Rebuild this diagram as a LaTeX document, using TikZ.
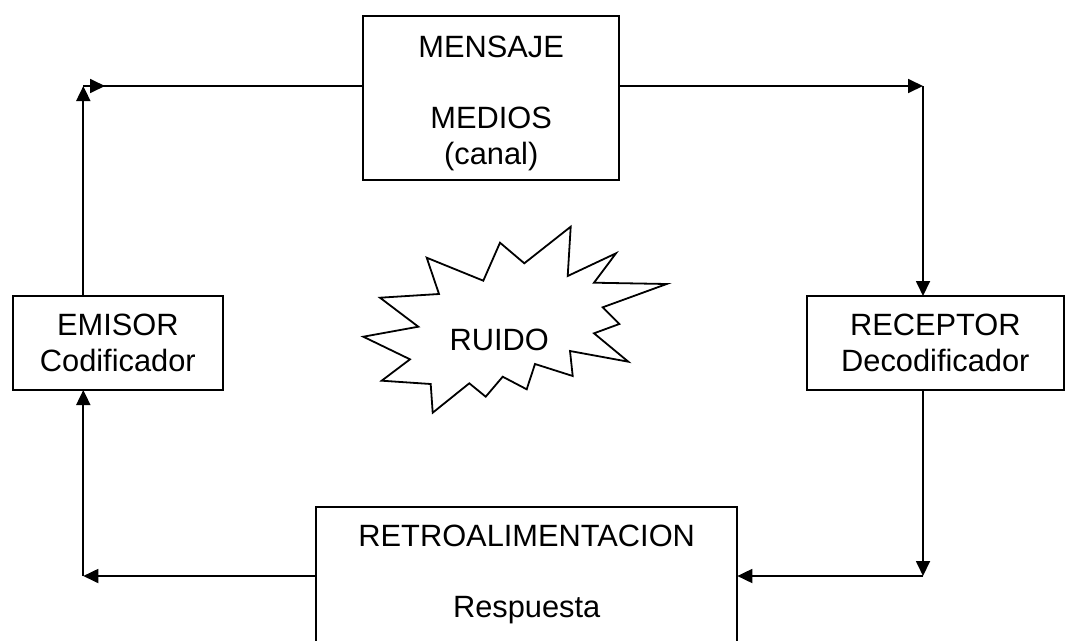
\documentclass[tikz,border=0pt]{standalone}
\usepackage{fontspec}
\setmainfont{Liberation Sans}
\usetikzlibrary{arrows.meta}
\begin{document}
\begin{tikzpicture}[x=1pt,y=-1pt,line width=1.8pt,
  txt/.style={font=\fontsize{30.8}{35.7}\selectfont},
  box/.style={draw,rectangle,outer sep=0pt,inner sep=0pt,align=center,txt},
  arr/.style={-{Triangle[length=15pt 0 0,width=14pt 0 0]}}]
\useasboundingbox (0,0) rectangle (1067,640);
\clip (0,0) rectangle (1067,640);

% boxes
\node[box,minimum width=256.3pt,minimum height=164pt] (mensaje) at (491.2,98)
  {\rule{0pt}{31.6pt}MENSAJE\\[35.7pt]MEDIOS\\(canal)};
\node[box,minimum width=210.3pt,minimum height=94pt] (emisor) at (117.8,343)
  {EMISOR\\Codificador};
\node[box,minimum width=257.3pt,minimum height=94pt] (receptor) at (935.3,343)
  {RECEPTOR\\Decodificador};
\node[box,minimum width=421.3pt,anchor=north,inner ysep=18.3pt] (retro) at (526.7,506.7)
  {RETROALIMENTACION\\[35.7pt]Respuesta\rule[-30pt]{0pt}{1pt}};

% noise starburst
\draw[line join=miter] (426.7,257.7) -- (483.3,280.7) -- (500,242.7) -- (524.3,263.3)
  -- (570.7,226.7) -- (567.7,276) -- (616,253.3) -- (594,282.7) -- (666.7,284)
  -- (602.7,307.3) -- (619.3,324) -- (594,333.3) -- (628.3,361.7) -- (570,351)
  -- (572.7,376) -- (535,364) -- (526.7,389.3) -- (502.7,376.7) -- (485.7,396.7)
  -- (469.3,383.3) -- (432.7,412.7) -- (430.7,384) -- (381.7,380.7) -- (410,359.3)
  -- (363.3,336.7) -- (418.3,326.7) -- (380,297.7) -- (439,294) -- cycle;
\node[txt,inner sep=0pt] (ruido) at (499.3,339.5) {RUIDO};

% corner coordinates
\coordinate (c1) at (83.3,86);
\coordinate (ct) at (105,86);
\coordinate (c2) at (923,86);
\coordinate (c3) at (923,576);
\coordinate (c4) at (83.3,576);

% connectors
\draw (mensaje.west|-c1) -- (c1);
\draw[arr] (c1) -- (ct);
\draw[arr] (c1|-emisor.north) -- (c1);
\draw[arr] (mensaje.east|-c2) -- (c2);
\draw[arr] (c2) -- (c2|-receptor.north);
\draw[arr] (c3|-receptor.south) -- (c3);
\draw[arr] (c3) -- (retro.east|-c3);
\draw[arr] (retro.west|-c4) -- (c4);
\draw[arr] (c4) -- (c4|-emisor.south);
\end{tikzpicture}
\end{document}
